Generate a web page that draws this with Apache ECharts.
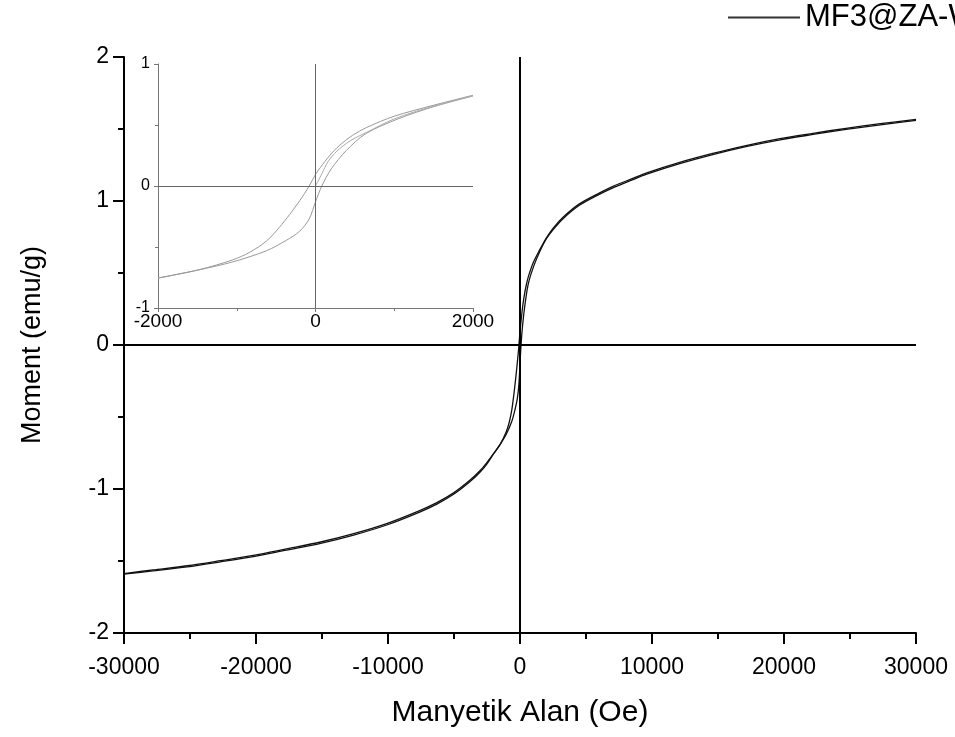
<!DOCTYPE html>
<html>
<head>
<meta charset="utf-8">
<script src="https://cdn.jsdelivr.net/npm/echarts@6/dist/echarts.min.js"></script>
<style>
  html, body { margin: 0; padding: 0; background: #fff; }
  #chart { width: 955px; height: 737px; }
</style>
</head>
<body>
<div id="chart"></div>
<script>
// far field, positive side (Oe) and the two loop branches (emu/g)
const fieldPos = [30000, 27300, 24700, 22200, 19700, 17200, 14600, 12100, 9600, 8500, 7000, 6000, 4500, 3300, 2500];
const momentPosDown = [1.567, 1.537, 1.505, 1.47, 1.433, 1.387, 1.33, 1.268, 1.195, 1.155, 1.10, 1.055, 0.98, 0.89, 0.81];
const momentPosUp = [1.56, 1.529, 1.497, 1.462, 1.425, 1.379, 1.322, 1.259, 1.186, 1.146, 1.09, 1.046, 0.97, 0.88, 0.80];

// far field, negative side
const fieldNeg = [-2500, -3000, -3800, -5000, -6300, -7600, -10100, -12600, -15100, -17700, -20200, -22700, -25200, -27800, -30000];
const momentNegDown = [-0.815, -0.87, -0.94, -1.025, -1.095, -1.15, -1.24, -1.31, -1.368, -1.416, -1.461, -1.498, -1.533, -1.562, -1.587];
const momentNegUp = [-0.825, -0.88, -0.95, -1.035, -1.105, -1.16, -1.25, -1.32, -1.377, -1.424, -1.469, -1.506, -1.541, -1.569, -1.591];

// low field loop (inset)
const fieldDown = [2000, 1500, 1000, 650, 470, 300, 180, 60, 0, -80, -200, -330, -460, -620, -840, -1050, -1470, -2000];
const momentDown = [0.744, 0.662, 0.572, 0.48, 0.415, 0.33, 0.25, 0.15, 0.095, 0, -0.12, -0.235, -0.34, -0.45, -0.545, -0.605, -0.685, -0.755];
const fieldUp = [-2000, -1500, -1050, -620, -370, -200, -80, 0, 80, 200, 390, 640, 1060, 1500, 2000];
const momentUp = [-0.755, -0.69, -0.622, -0.53, -0.445, -0.37, -0.27, -0.13, 0, 0.14, 0.29, 0.43, 0.553, 0.65, 0.738];
const fieldVirgin = [0, 80, 160, 270, 440, 650, 1000, 1500, 2000];
const momentVirgin = [0, 0.10, 0.2, 0.285, 0.37, 0.44, 0.55, 0.655, 0.74];

const seriesName = 'MF3@ZA-W';
const font = "'Liberation Sans', Arial, sans-serif";

const pairs = (xs, ys) => xs.map((x, i) => [x, ys[i]]);
const plain = v => String(v);

// descending branch: +30000 -> -30000, ascending branch the other way
const branchDown = [
    ...pairs(fieldPos, momentPosDown),
    ...pairs(fieldDown, momentDown),
    ...pairs(fieldNeg, momentNegDown)
];
const branchUp = [
    ...pairs(fieldNeg, momentNegUp).reverse(),
    ...pairs(fieldUp, momentUp),
    ...pairs(fieldPos, momentPosUp).reverse()
];

const chart = echarts.init(document.getElementById('chart'), null, { renderer: 'canvas' });

const zeroLines = (color, width) => ({
    silent: true,
    symbol: ['none', 'none'],
    label: { show: false },
    lineStyle: { color: color, width: width, type: 'solid' },
    emphasis: { disabled: true },
    animation: false,
    data: [{ xAxis: 0 }, { yAxis: 0 }]
});

const option = {
    backgroundColor: '#fff',
    animation: false,
    textStyle: { fontFamily: font },
    legend: {
        data: [seriesName],
        left: 728,
        top: 2,
        icon: 'path://M0 0 H72 V2 H0 Z',
        itemWidth: 72,
        itemHeight: 2,
        padding: 0,
        itemStyle: { color: '#333' },
        textStyle: { fontFamily: font, fontSize: 31, color: '#000' }
    },
    grid: [
        { left: 124, right: 39, top: 57, bottom: 104 },
        { left: 158, right: 482, top: 64, bottom: 429 }
    ],
    xAxis: [
        {
            gridIndex: 0, type: 'value', min: -30000, max: 30000, interval: 10000,
            name: 'Manyetik Alan (Oe)', nameLocation: 'middle', nameGap: 65,
            nameTextStyle: { fontFamily: font, fontSize: 30, color: '#000' },
            axisLine: { onZero: false, lineStyle: { color: '#000', width: 2 } },
            axisTick: { inside: false, length: 11, lineStyle: { color: '#000', width: 2 } },
            minorTick: { show: true, splitNumber: 2, length: 6, lineStyle: { color: '#000', width: 2 } },
            axisLabel: { fontFamily: font, fontSize: 23, color: '#000', margin: 23, formatter: plain },
            splitLine: { show: false }
        },
        {
            gridIndex: 1, type: 'value', min: -2000, max: 2000, interval: 2000,
            axisLine: { onZero: false, lineStyle: { color: '#777', width: 1 } },
            axisTick: { inside: false, length: 4, lineStyle: { color: '#777' } },
            minorTick: { show: true, splitNumber: 2, length: 3, lineStyle: { color: '#777' } },
            axisLabel: { fontFamily: font, fontSize: 19, color: '#000', margin: 4, formatter: plain },
            splitLine: { show: false }
        }
    ],
    yAxis: [
        {
            gridIndex: 0, type: 'value', min: -2, max: 2, interval: 1,
            name: 'Moment (emu/g)', nameLocation: 'middle', nameGap: 78,
            nameTextStyle: { fontFamily: font, fontSize: 27, color: '#000' },
            axisLine: { onZero: false, lineStyle: { color: '#000', width: 2 } },
            axisTick: { inside: false, length: 11, lineStyle: { color: '#000', width: 2 } },
            minorTick: { show: true, splitNumber: 2, length: 6, lineStyle: { color: '#000', width: 2 } },
            axisLabel: { fontFamily: font, fontSize: 23, color: '#000', margin: 15, formatter: plain },
            splitLine: { show: false }
        },
        {
            gridIndex: 1, type: 'value', min: -1, max: 1, interval: 1,
            axisLine: { onZero: false, lineStyle: { color: '#777', width: 1 } },
            axisTick: { inside: false, length: 4, lineStyle: { color: '#777' } },
            minorTick: { show: true, splitNumber: 2, length: 3, lineStyle: { color: '#777' } },
            axisLabel: { fontFamily: font, fontSize: 16, color: '#000', margin: 8, formatter: plain },
            splitLine: { show: false }
        }
    ],
    series: [
        {
            name: seriesName, type: 'line', xAxisIndex: 0, yAxisIndex: 0,
            data: branchDown, symbol: 'none', smooth: 0.3,
            lineStyle: { color: '#111', width: 1.3 }, itemStyle: { color: '#111' },
            markLine: zeroLines('#000', 2)
        },
        {
            name: seriesName, type: 'line', xAxisIndex: 0, yAxisIndex: 0,
            data: branchUp, symbol: 'none', smooth: 0.3,
            lineStyle: { color: '#111', width: 1.3 }, itemStyle: { color: '#111' }
        },
        {
            name: 'inset-down', type: 'line', xAxisIndex: 1, yAxisIndex: 1,
            data: pairs(fieldDown, momentDown), symbol: 'none', smooth: 0.3,
            lineStyle: { color: '#999', width: 1 },
            markLine: zeroLines('#666', 1)
        },
        {
            name: 'inset-up', type: 'line', xAxisIndex: 1, yAxisIndex: 1,
            data: pairs(fieldUp, momentUp), symbol: 'none', smooth: 0.3,
            lineStyle: { color: '#999', width: 1 }
        },
        {
            name: 'inset-virgin', type: 'line', xAxisIndex: 1, yAxisIndex: 1,
            data: pairs(fieldVirgin, momentVirgin), symbol: 'none', smooth: 0.3,
            lineStyle: { color: '#aaa', width: 1 }
        }
    ]
};

chart.setOption(option);
</script>
</body>
</html>
